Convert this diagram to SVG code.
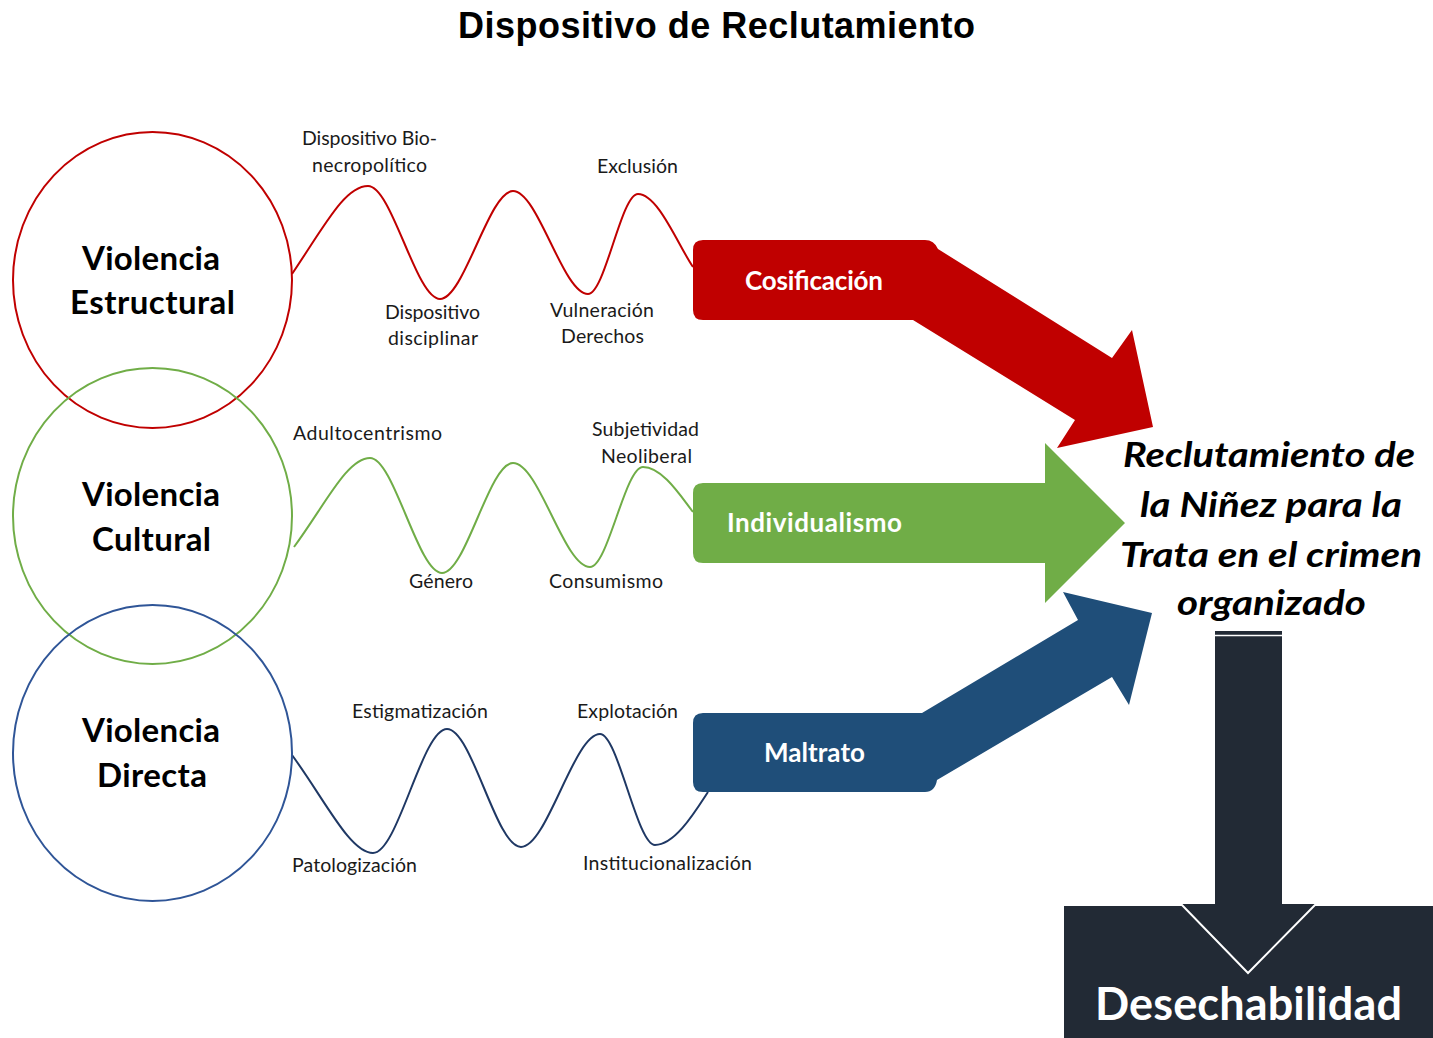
<svg xmlns="http://www.w3.org/2000/svg" width="1433" height="1038" viewBox="0 0 1433 1038">
<style>
.lbl{font-family:Lato,"Open Sans","Liberation Sans",sans-serif;font-size:19.5px;fill:#1a1a1a;text-anchor:middle}
.circ{font-family:Lato,"Open Sans","Liberation Sans",sans-serif;font-size:33px;font-weight:bold;fill:#000;text-anchor:middle}
.arl{font-family:Lato,"Open Sans","Liberation Sans",sans-serif;font-size:26px;font-weight:bold;fill:#fff;text-anchor:middle}
.res{font-family:Lato,"Open Sans","Liberation Sans",sans-serif;font-size:35px;font-weight:bold;font-style:italic;fill:#000;text-anchor:middle}
.wave{fill:none;stroke-width:2}
.ring{fill:none;stroke-width:2}
</style>
<rect width="1433" height="1038" fill="#fff"/>
<text x="716.5" y="38" font-family="'Liberation Sans',Arial,sans-serif" font-size="36" font-weight="bold" text-anchor="middle" textLength="517" fill="#000">Dispositivo de Reclutamiento</text>

<g id="connectors">
  <path class="wave" stroke="#C00000" d="M292,274 C325,225 345,186 368,186 C392,186 416,299 440,299 C464,299 489,191 513,191 C538,191 563,294 588,294 C605,294 621,194 638,194 C658,194 678,245 693,267"/>
  <path class="wave" stroke="#70AD47" d="M294,547 C325,505 347,458 370,458 C394,458 418,573 442,573 C466,573 489,463 513,463 C539,463 564,567 590,567 C608,567 625,467 643,467 C662,467 680,495 693,512"/>
  <path class="wave" stroke="#1F3864" d="M292,755 C325,800 350,853 373,853 C398,853 422,729 447,729 C472,729 496,847 521,847 C547,847 574,734 600,734 C618,734 637,845 655,845 C675,845 695,812 708,792"/>
</g>

<g id="node-estructural">
  <ellipse class="ring" cx="152.5" cy="280" rx="139.5" ry="148" stroke="#C00000"/>
  <text class="circ" x="151" y="270" textLength="138">Violencia</text>
  <text class="circ" x="152.5" y="314" textLength="165">Estructural</text>
</g>
<g id="node-cultural">
  <ellipse class="ring" cx="152.5" cy="516" rx="139.5" ry="148" stroke="#70AD47"/>
  <text class="circ" x="151" y="506" textLength="138">Violencia</text>
  <text class="circ" x="151.5" y="551" textLength="119">Cultural</text>
</g>
<g id="node-directa">
  <ellipse class="ring" cx="152.5" cy="753" rx="139.5" ry="148" stroke="#2F5597"/>
  <text class="circ" x="151" y="742" textLength="138">Violencia</text>
  <text class="circ" x="152" y="787" textLength="110">Directa</text>
</g>

<g id="labels-red">
  <text class="lbl" x="369.5" y="145" textLength="135">Dispositivo Bio-</text>
  <text class="lbl" x="369.5" y="172" textLength="115">necropolítico</text>
  <text class="lbl" x="637.5" y="173" textLength="81">Exclusión</text>
  <text class="lbl" x="432.5" y="319" textLength="95">Dispositivo</text>
  <text class="lbl" x="433" y="345" textLength="90">disciplinar</text>
  <text class="lbl" x="602" y="317" textLength="104">Vulneración</text>
  <text class="lbl" x="602.5" y="343" textLength="83">Derechos</text>
</g>
<g id="labels-green">
  <text class="lbl" x="367.5" y="440" textLength="149">Adultocentrismo</text>
  <text class="lbl" x="645.5" y="436" textLength="107">Subjetividad</text>
  <text class="lbl" x="646.5" y="463" textLength="91">Neoliberal</text>
  <text class="lbl" x="441" y="588" textLength="64">Género</text>
  <text class="lbl" x="606" y="588" textLength="114">Consumismo</text>
</g>
<g id="labels-blue">
  <text class="lbl" x="420" y="718" textLength="136">Estigmatización</text>
  <text class="lbl" x="627.5" y="718" textLength="101">Explotación</text>
  <text class="lbl" x="354.5" y="872" textLength="125">Patologización</text>
  <text class="lbl" x="667.5" y="870" textLength="169">Institucionalización</text>
</g>

<g id="node-individualismo">
  <path fill="#70AD47" d="M703,483 L1045,483 L1045,443 L1125,523 L1045,603 L1045,563 L703,563 Q693,563 693,553 L693,493 Q693,483 703,483 Z"/>
  <text class="arl" x="814.5" y="532" textLength="175">Individualismo</text>
</g>
<g id="node-cosificacion">
  <path fill="#C00000" d="M703,240 L925,240 Q934,240 938,249 L1112,358 L1132,330 L1153,427 L1057,448 L1075,420 L913,320 L703,320 Q693,320 693,310 L693,250 Q693,240 703,240 Z"/>
  <text class="arl" x="814" y="290" textLength="138">Cosificación</text>
</g>
<g id="node-maltrato">
  <path fill="#1F4E79" d="M703,713 L922,713 L1078,620 L1063,592 L1152,613 L1129,705 L1112,677 L937,780 Q935,792 925,792 L703,792 Q693,792 693,782 L693,723 Q693,713 703,713 Z"/>
  <text class="arl" x="814.5" y="762" textLength="101">Maltrato</text>
</g>

<g id="node-reclutamiento">
  <text class="res" x="1269" y="467" textLength="292" lengthAdjust="spacingAndGlyphs">Reclutamiento de</text>
  <text class="res" x="1271" y="517" textLength="262" lengthAdjust="spacingAndGlyphs">la Niñez para la</text>
  <text class="res" x="1271" y="567" textLength="302" lengthAdjust="spacingAndGlyphs">Trata en el crimen</text>
  <text class="res" x="1271.5" y="615" textLength="189" lengthAdjust="spacingAndGlyphs">organizado</text>
</g>

<g id="node-desechabilidad">
  <rect x="1064" y="906" width="375" height="140" fill="#222A35"/>
  <path fill="#222A35" stroke="#fff" stroke-width="2" d="M1214,630 L1283,630 L1283,903 L1317,903 L1248,973 L1180,903 L1214,903 Z"/>
  <line x1="1214" y1="635.5" x2="1283" y2="635.5" stroke="#fff" stroke-width="1.5"/>
  <text x="1248.5" y="1020" font-family="Lato,'Open Sans','Liberation Sans',sans-serif" font-size="45" font-weight="bold" fill="#fff" text-anchor="middle" textLength="307">Desechabilidad</text>
</g>
</svg>
